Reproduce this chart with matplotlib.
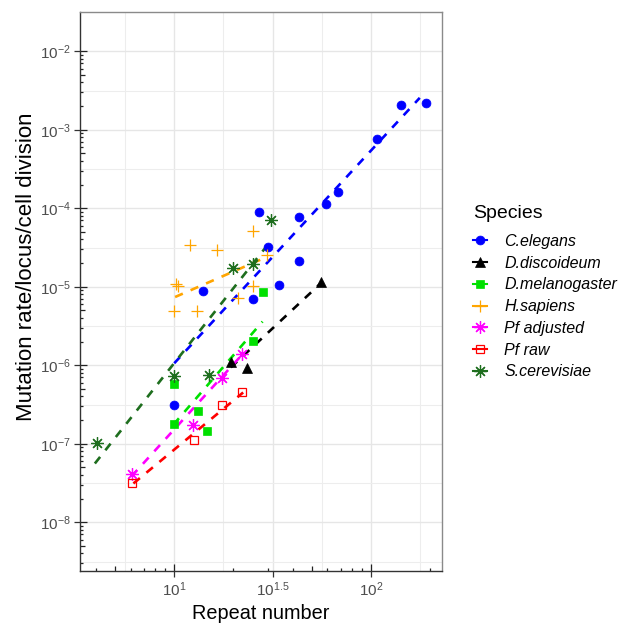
import numpy as np
import matplotlib
matplotlib.use("Agg")
import matplotlib.pyplot as plt
from matplotlib.lines import Line2D
import matplotlib.transforms as mtransforms

plt.rcParams['font.family'] = ['Liberation Sans', 'DejaVu Sans']
plt.rcParams['mathtext.default'] = 'regular'

# ---- data (repeat number, mutation rate) ----
species = ["C.elegans", "D.discoideum", "D.melanogaster", "H.sapiens",
           "Pf adjusted", "Pf raw", "S.cerevisiae"]

elegans_x = [10, 14, 25, 27, 30, 34, 43, 43, 59, 68, 107, 142, 191]
elegans_y = [3.1e-7, 8.9e-6, 6.9e-6, 8.9e-5, 3.2e-5, 1.06e-5, 7.7e-5,
             2.1e-5, 1.12e-4, 1.62e-4, 7.7e-4, 2.04e-3, 2.18e-3]

discoideum_x = [19.5, 23.3, 55.7]
discoideum_y = [1.11e-6, 9.2e-7, 1.15e-5]

melanogaster_x = [10, 10, 13.2, 14.6, 25, 28.1]
melanogaster_y = [5.7e-7, 1.79e-7, 2.6e-7, 1.44e-7, 2.06e-6, 8.5e-6]

sapiens_x = [10.4, 10.2, 12.0, 16.4, 25, 29.7, 25, 21.1, 10, 13]
sapiens_y = [1.01e-5, 1.08e-5, 3.44e-5, 2.92e-5, 5.15e-5, 2.54e-5,
             1.01e-5, 7.2e-6, 4.9e-6, 4.9e-6]

pf_adj_x = [6.07, 12.5, 17.5, 22.2]
pf_adj_y = [4.1e-8, 1.75e-7, 6.8e-7, 1.41e-6]

pf_raw_x = [6.1, 12.6, 17.5, 22.2]
pf_raw_y = [3.2e-8, 1.12e-7, 3.1e-7, 4.5e-7]

cerevisiae_x = [4.03, 10, 15, 20, 25, 31]
cerevisiae_y = [1.02e-7, 7.2e-7, 7.5e-7, 1.73e-5, 1.96e-5, 7.1e-5]

# dashed fit lines (start, end)
elegans_fit_x = [10, 177]
elegans_fit_y = [1.06e-6, 2.55e-3]
discoideum_fit_x = [19.4, 55]
discoideum_fit_y = [9.4e-7, 1.08e-5]
melanogaster_fit_x = [9.9, 28.1]
melanogaster_fit_y = [1.75e-7, 3.6e-6]
sapiens_fit_x = [10.1, 29.9]
sapiens_fit_y = [7.4e-6, 2.43e-5]
pf_adj_fit_x = [6.07, 22.4]
pf_adj_fit_y = [3.85e-8, 1.41e-6]
pf_raw_fit_x = [6.2, 22.4]
pf_raw_fit_y = [3.12e-8, 4.5e-7]
cerevisiae_fit_x = [3.95, 29.8]
cerevisiae_fit_y = [5.6e-8, 3.4e-5]

points = [(elegans_x, elegans_y), (discoideum_x, discoideum_y),
          (melanogaster_x, melanogaster_y), (sapiens_x, sapiens_y),
          (pf_adj_x, pf_adj_y), (pf_raw_x, pf_raw_y),
          (cerevisiae_x, cerevisiae_y)]
fits = [(elegans_fit_x, elegans_fit_y), (discoideum_fit_x, discoideum_fit_y),
        (melanogaster_fit_x, melanogaster_fit_y), (sapiens_fit_x, sapiens_fit_y),
        (pf_adj_fit_x, pf_adj_fit_y), (pf_raw_fit_x, pf_raw_fit_y),
        (cerevisiae_fit_x, cerevisiae_fit_y)]

colors = ["#0000FF", "#000000", "#00E000", "#FFA500", "#FF00FF", "#FF0000", "#1E6E1E"]
star8 = (8, 2, 0)
styles = [dict(marker='o', ms=6.4, mfc=None),
          dict(marker='^', ms=6.5, mfc=None),
          dict(marker='s', ms=5.3, mfc=None),
          dict(marker='+', ms=9, mfc=None, mew=0.9),
          dict(marker=star8, ms=9, mfc=None, mew=0.9),
          dict(marker='s', ms=6, mfc='none', mew=0.9),
          dict(marker=star8, ms=9, mfc=None, mew=0.9)]

fig = plt.figure(figsize=(6.31, 6.23), dpi=100)
ax = fig.add_axes([80/631, 1 - 571/623, 362/631, 559/623])
ax.set_xscale('log')
ax.set_yscale('log')
ax.set_xlim(10**0.521, 10**2.361)
ax.set_ylim(10**-8.621, 10**-1.72)

handles = []
for name, (px, py), (fx, fy), c, st in zip(species, points, fits, colors, styles):
    ax.plot(fx, fy, color=c, lw=1.9, ls=(0, (3.2, 3.2)), zorder=2)
    kw = dict(marker=st['marker'], ms=st['ms'], color=c,
              mew=st.get('mew', 0.5))
    if st['mfc'] == 'none':
        kw['mfc'] = 'none'
    ax.plot(px, py, ls='none', zorder=3, **kw)
    handles.append(Line2D([], [], lw=1.5, **kw))

# grid: major + minor breaks
xmaj = [10, 10**1.5, 100]
xmin = [10**0.75, 10**1.25, 10**1.75, 10**2.25]
ymaj = [10.0**k for k in range(-8, -1)]
ymin = [10.0**(k + 0.5) for k in range(-9, -1)]
ax.set_xticks(xmaj)
ax.set_xticklabels(['$10^{1}$', '$10^{1.5}$', '$10^{2}$'])
ax.set_xticks(xmin, minor=True)
ax.set_yticks(ymaj)
ax.set_yticklabels(['$10^{%d}$' % k for k in range(-8, -1)])
ax.set_yticks(ymin, minor=True)
ax.tick_params(which='minor', length=0, labelbottom=False, labelleft=False)
ax.tick_params(which='major', direction='out', length=4, width=0.9,
               color='#333333', labelcolor='#4D4D4D', labelsize=11, pad=2.5)
ax.grid(which='major', color='#E6E6E6', lw=1.0)
ax.grid(which='minor', color='#EDEDED', lw=0.8)
ax.set_axisbelow(True)

# log ticks drawn inside the panel
tx = mtransforms.blended_transform_factory(ax.transData, ax.transAxes)
ty = mtransforms.blended_transform_factory(ax.transAxes, ax.transData)
lens = {1: 7.0, 5: 5.0}
for k in range(0, 3):
    for m in range(1, 10):
        v = m * 10.0**k
        if 10**0.521 < v < 10**2.361:
            L = lens.get(m, 3.0)
            ax.vlines(v, 0, L / 559, transform=tx, color='#222222', lw=0.9)
for k in range(-9, -1):
    for m in range(1, 10):
        v = m * 10.0**k
        if 10**-8.621 < v < 10**-1.72:
            L = lens.get(m, 3.0)
            ax.hlines(v, 0, L / 362, transform=ty, color='#222222', lw=0.9)

for s in ['top', 'right']:
    ax.spines[s].set_color('#8A8A8A')
for s in ['left', 'bottom']:
    ax.spines[s].set_color('#333333')
for s in ax.spines.values():
    s.set_linewidth(1.0)

ax.set_xlabel('Repeat number', fontsize=14.3)
ax.set_ylabel('Mutation rate/locus/cell division', fontsize=16)
ax.xaxis.set_label_coords(0.5, -0.059)
ax.yaxis.set_label_coords(-0.118, 0.545)

fig.text(473/631, 1 - 218.3/623, 'Species', fontsize=14, ha='left',
         va='baseline')
leg = fig.legend(handles, species, loc='upper left',
                 bbox_to_anchor=(473/631, 1 - 234/623), frameon=False,
                 fontsize=11.5, handlelength=0.9, handletextpad=1.05,
                 labelspacing=0.42, borderaxespad=0, borderpad=0)
for t in leg.get_texts():
    t.set_fontstyle('italic')

fig.savefig('out.png', dpi=100)
